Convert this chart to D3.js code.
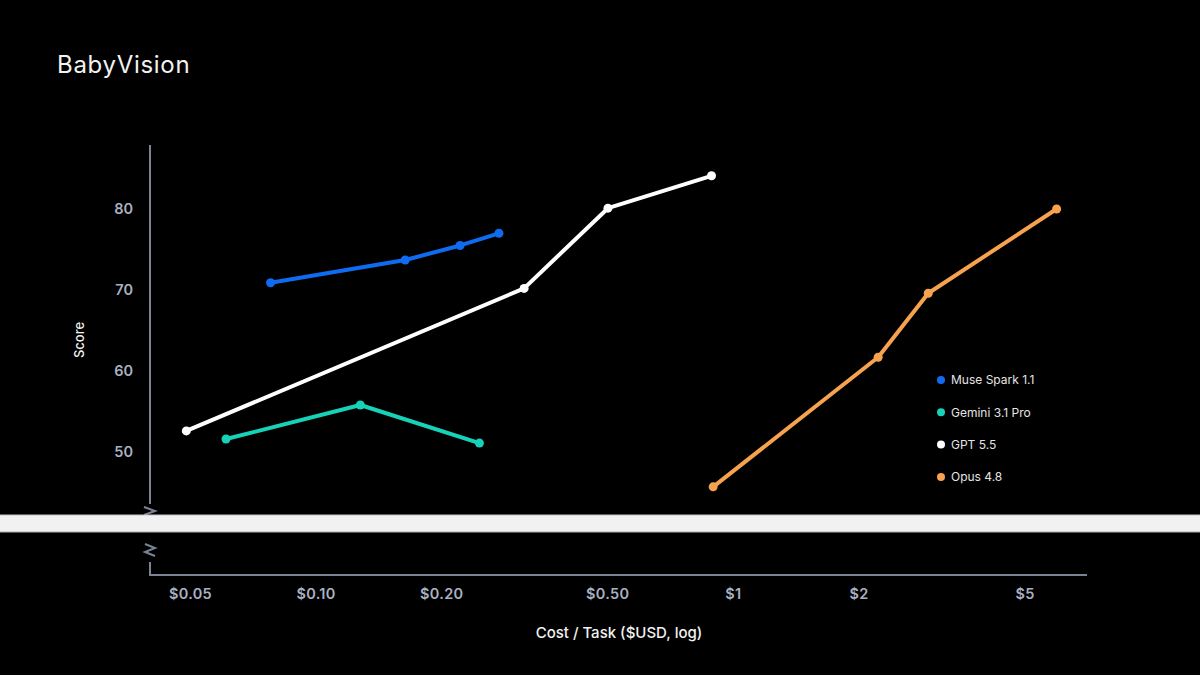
<!DOCTYPE html>
<html>
<head>
<meta charset="utf-8">
<script src="https://cdn.jsdelivr.net/npm/d3@7"></script>
<style>
  body { margin: 0; background: #000; }
  svg { display: block; font-family: Inter, "Noto Sans", sans-serif; }
</style>
</head>
<body>
<svg id="chart" width="1200" height="675"></svg>
<script>
// series data (cost per task in USD, score)
const museCost = [0.078, 0.164, 0.222, 0.275];
const museScore = [70.9, 73.7, 75.5, 77.0];
const geminiCost = [0.061, 0.128, 0.247];
const geminiScore = [51.6, 55.8, 51.1];
const gptCost = [0.049, 0.316, 0.502, 0.889];
const gptScore = [52.6, 70.2, 80.1, 84.1];
const opusCost = [0.897, 2.23, 2.94, 5.97];
const opusScore = [45.7, 61.7, 69.6, 80.0];

const seriesNames = ["Muse Spark 1.1", "Gemini 3.1 Pro", "GPT 5.5", "Opus 4.8"];
const seriesColors = ["#0f6cf0", "#17d2b8", "#ffffff", "#f7a24f"];
const xTicks = [0.05, 0.1, 0.2, 0.5, 1, 2, 5];
const xTickLabels = ["$0.05", "$0.10", "$0.20", "$0.50", "$1", "$2", "$5"];
const yTicks = [50, 60, 70, 80];

const series = [
  { name: seriesNames[0], color: seriesColors[0], pts: museCost.map((c, i) => [c, museScore[i]]) },
  { name: seriesNames[1], color: seriesColors[1], pts: geminiCost.map((c, i) => [c, geminiScore[i]]) },
  { name: seriesNames[2], color: seriesColors[2], pts: gptCost.map((c, i) => [c, gptScore[i]]) },
  { name: seriesNames[3], color: seriesColors[3], pts: opusCost.map((c, i) => [c, opusScore[i]]) }
];

const svg = d3.select("#chart");
const axisColor = "#7b8392";
const tickColor = "#a9b1c0";

let mLeft = 150, mRight = 1087, mTop = 145, mBottom = 575;

let x = d3.scaleLog().domain([0.0401, 7.06]).range([mLeft, mRight]);
let y = d3.scaleLinear().domain([50, 80]).range([452, 209]);

// title
svg.append("text")
  .attr("x", 57).attr("y", 73)
  .attr("fill", "#f2f2f2")
  .attr("font-size", 24)
  .attr("letter-spacing", 0.7)
  .text("BabyVision");

// y axis (custom, with break marks)
svg.append("path")
  .attr("d", `M${mLeft},${mTop} L${mLeft},504`)
  .attr("stroke", axisColor).attr("stroke-width", 2).attr("fill", "none");
svg.append("path")
  .attr("d", `M${mLeft},562 L${mLeft},${mBottom} L${mRight},${mBottom}`)
  .attr("stroke", axisColor).attr("stroke-width", 2).attr("fill", "none");
svg.append("path")
  .attr("d", `M${mLeft - 6},507 L${mLeft + 5},511 L${mLeft - 6},515`)
  .attr("stroke", axisColor).attr("stroke-width", 2).attr("fill", "none");
svg.append("path")
  .attr("d", `M${mLeft - 5},544 L${mLeft + 5},548 L${mLeft - 5},552 L${mLeft + 5},556`)
  .attr("stroke", axisColor).attr("stroke-width", 2).attr("fill", "none");

let yAxis = d3.axisLeft(y).tickValues(yTicks).tickSize(0).tickPadding(0);
let yg = svg.append("g").attr("transform", `translate(133,0)`).call(yAxis);
yg.select(".domain").remove();
yg.selectAll("text")
  .attr("fill", tickColor).attr("font-size", 14.5).attr("font-weight", 600)
  .attr("font-family", "Inter, 'Noto Sans', sans-serif");

let xAxis = d3.axisBottom(x).tickValues(xTicks).tickSize(0).tickPadding(0)
  .tickFormat((d, i) => xTickLabels[i]);
let xg = svg.append("g").attr("transform", `translate(0,${mBottom + 14})`).call(xAxis);
xg.select(".domain").remove();
xg.selectAll("text")
  .attr("fill", tickColor).attr("font-size", 14.5).attr("font-weight", 600)
  .attr("letter-spacing", 0.3)
  .attr("font-family", "Inter, 'Noto Sans', sans-serif");

// axis titles
svg.append("text")
  .attr("transform", "translate(84,340) rotate(-90)")
  .attr("text-anchor", "middle")
  .attr("fill", "#f2f2f2").attr("font-size", 13).attr("font-weight", 500)
  .text("Score");
svg.append("text")
  .attr("x", 619).attr("y", 638)
  .attr("text-anchor", "middle")
  .attr("fill", "#f2f2f2").attr("font-size", 15).attr("font-weight", 500)
  .text("Cost / Task ($USD, log)");

// lines and points
let line = d3.line().x(d => x(d[0])).y(d => y(d[1]));
let g = svg.append("g");
series.forEach(s => {
  g.append("path")
    .datum(s.pts)
    .attr("d", line)
    .attr("fill", "none")
    .attr("stroke", s.color)
    .attr("stroke-width", 4)
    .attr("stroke-linejoin", "round");
  g.selectAll(null).data(s.pts).enter().append("circle")
    .attr("cx", d => x(d[0]))
    .attr("cy", d => y(d[1]))
    .attr("r", 4.5)
    .attr("fill", s.color);
});

// legend
let leg = svg.append("g").attr("transform", "translate(941,380)");
series.forEach((s, i) => {
  let row = leg.append("g").attr("transform", `translate(0,${i * 32.3})`);
  row.append("circle").attr("r", 4).attr("fill", s.color);
  row.append("text")
    .attr("x", 10).attr("dy", "0.35em")
    .attr("fill", "#e4e4e4").attr("font-size", 12)
    .text(s.name);
});

// the light band across the picture
svg.append("rect")
  .attr("x", 0).attr("y", 515).attr("width", 1200).attr("height", 17)
  .attr("fill", "#f1f1f1");
svg.append("line").attr("x1", 0).attr("x2", 1200).attr("y1", 515).attr("y2", 515)
  .attr("stroke", "#c4c4c4").attr("stroke-width", 1);
svg.append("line").attr("x1", 0).attr("x2", 1200).attr("y1", 532).attr("y2", 532)
  .attr("stroke", "#b0b0b0").attr("stroke-width", 1);
</script>
</body>
</html>
